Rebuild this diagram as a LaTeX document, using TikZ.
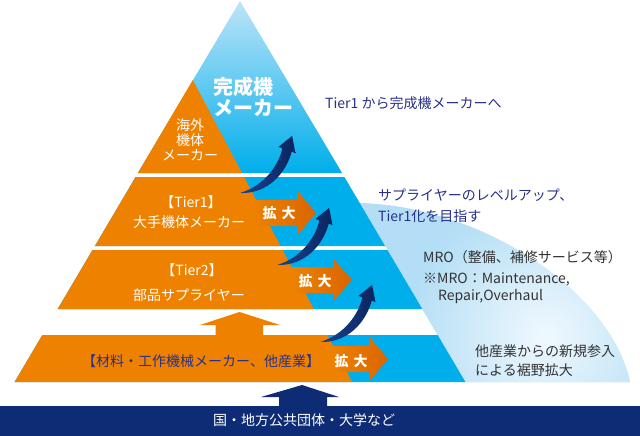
\documentclass[tikz,border=0pt]{standalone}
\usepackage{fontspec}
\setmainfont{Noto Sans CJK JP}
\definecolor{org}{HTML}{EE8200}
\definecolor{orgd}{HTML}{D96500}
\definecolor{cyanb}{HTML}{00AEEB}
\definecolor{topb}{HTML}{BDE4F8}
\definecolor{navyb}{HTML}{0E2C76}
\definecolor{navyt}{HTML}{28308A}
\definecolor{grayt}{HTML}{333333}
\definecolor{fanb}{HTML}{B3DEF5}
\definecolor{fanw}{HTML}{F0F8FE}
\definecolor{arrl}{HTML}{1A438F}
\definecolor{arrd}{HTML}{0A255F}
\newcommand{\myCurvedArrow}[2]{%
  \begin{scope}[shift={(#1,#2)}]
    \shade[left color=arrl, right color=arrd]
      (0,0) .. controls (28,1) and (46,-20) .. (51.7,-41.3)
      -- (55.5,-39.9) -- (52.1,-57.1) -- (38.5,-46.1) -- (42.3,-44.7)
      .. controls (39,-28) and (24,-7) .. (0,0) -- cycle;
  \end{scope}}
\begin{document}
\begin{tikzpicture}[x=1pt,y=-1pt,
  t14/.style={inner sep=0pt, font=\fontsize{14pt}{14pt}\selectfont, text height=12.3pt, text depth=1.7pt},
  t20/.style={inner sep=0pt, font=\fontsize{20pt}{20pt}\selectfont\bfseries, text height=17.6pt, text depth=2.4pt, text=white},
  wt/.style={t14, text=white},
  kb/.style={t14, font=\fontsize{14pt}{14pt}\selectfont\bfseries, text=white},
  nt/.style={t14, text=navyt, anchor=west},
  gt/.style={t14, text=grayt, anchor=west}]
\useasboundingbox (0,0) rectangle (640,436);
% fan
\fill[fanb] (359.8,203) .. controls (480,206) and (610,290) .. (630,382) -- (465.4,382) -- cycle;
\begin{scope}
  \clip (359.8,203) .. controls (480,206) and (610,290) .. (630,382) -- (465.4,382) -- cycle;
  \shade[inner color=fanw, outer color=fanb] (545,335) circle (140);
\end{scope}
% blue pyramid parts
\shade[top color=topb, bottom color=cyanb] (240,1) -- (342.1,173) -- (137.9,173) -- cycle;
\fill[cyanb] (135.6,177) -- (344.4,177) -- (385.1,246) -- (94.9,246) -- cycle;
\fill[cyanb] (92.5,250) -- (387.5,250) -- (422.3,309) -- (57.7,309) -- cycle;
\fill[cyanb] (42.35,335) -- (437.65,335) -- (465.4,382) -- (14.6,382) -- cycle;
% orange parts
\fill[org] (192.8,80) -- (242,173) -- (137.9,173) -- cycle;
\fill[org] (135.6,177) -- (244.1,177) -- (280.5,246) -- (94.9,246) -- cycle;
\fill[org] (92.5,250) -- (282.6,250) -- (313.7,309) -- (57.7,309) -- cycle;
\fill[org] (42.35,335) -- (327.4,335) -- (352.2,382) -- (14.6,382) -- cycle;
% orange up arrow
\fill[org] (215.5,335) -- (215.5,325) -- (200,325) -- (239.5,312) -- (280,325) -- (263,325) -- (263,335) -- cycle;
% navy bar and up arrow
\fill[navyb] (0,406) rectangle (640,436);
\fill[navyb] (279,407) -- (279,397) -- (261,397) -- (302,385) -- (339,397) -- (327,397) -- (327,407) -- cycle;
% expansion arrows
\shade[left color=org, right color=orgd]
  (252,200) -- (298,200) -- (298,191.5) -- (316,213) -- (298,234.5) -- (298,226) -- (252,226) -- cycle;
\shade[left color=org, right color=orgd]
  (290,267) -- (333,267) -- (333,258.5) -- (352,280) -- (333,301.5) -- (333,293) -- (290,293) -- cycle;
\shade[left color=org, right color=orgd]
  (332,346) -- (370,346) -- (370,337.5) -- (388,359) -- (370,380.5) -- (370,372) -- (332,372) -- cycle;
% curved arrows
\myCurvedArrow{240}{193}
\myCurvedArrow{277}{265}
\myCurvedArrow{320}{342}
% texts in pyramid
\node[t20, anchor=west] (kan1) at (213,87) {完成機};
\node[t20, anchor=west] (kan2) at (213,108) {メーカー};
\node[wt] (kai1) at (190,125) {海外};
\node[wt] (kai2) at (190,140) {機体};
\node[wt] (kai3) at (190,155) {メーカー};
\node[wt] (t1a) at (191,202) {【Tier1】};
\node[wt] (t1b) at (189,222) {大手機体メーカー};
\node[wt] (t2a) at (192,270) {【Tier2】};
\node[wt] (t2b) at (189,295) {部品サプライヤー};
\node[t14, text=navyt, anchor=west] (mat) at (82,361) {【材料・工作機械メーカー、他産業】};
\node[kb] (k1) at (279,213) {拡\hspace{5pt}大};
\node[kb] (k2) at (315,281) {拡\hspace{5pt}大};
\node[kb] (k3) at (351,361) {拡\hspace{5pt}大};
\node[wt] (bar) at (304,420) {国・地方公共団体・大学など};
% right texts
\node[nt] (r1) at (325,103) {Tier1 から完成機メーカーへ};
\node[nt] (r2) at (378,195) {サプライヤーのレベルアップ、};
\node[nt] (r3) at (378,216) {Tier1化を目指す};
\node[gt] (m1) at (423,257) {MRO（整備、補修サービス等）};
\node[gt] (m2) at (423,278) {※MRO：Maintenance,};
\node[gt] (m3) at (438,295) {Repair,Overhaul};
\node[gt] (o1) at (475,351) {他産業からの新規参入};
\node[gt] (o2) at (475,370) {による裾野拡大};
\end{tikzpicture}
\end{document}
